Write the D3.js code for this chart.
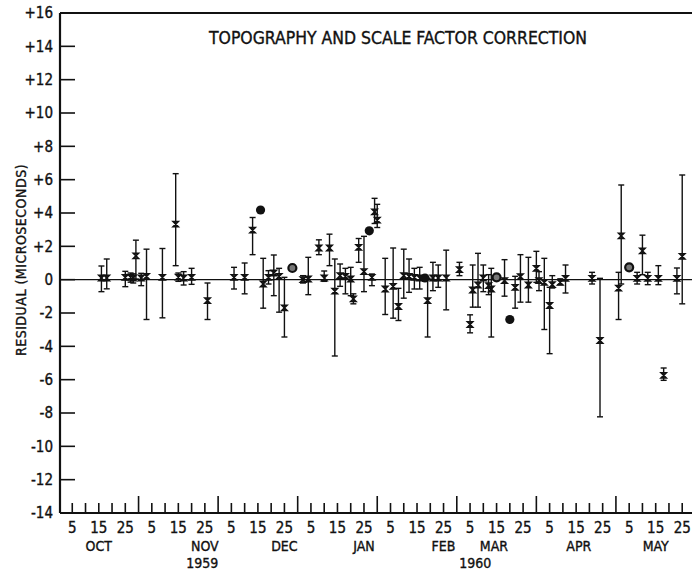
<!DOCTYPE html>
<html>
<head>
<meta charset="utf-8">
<script src="https://cdn.jsdelivr.net/npm/d3@7"></script>
<style>
  body { margin: 0; background: #fff; }
  svg text { font-family: "Liberation Sans Narrow", "DejaVu Sans Condensed", "Arial Narrow", sans-serif; fill: #111; stroke: #111; stroke-width: 0.35px; }
</style>
</head>
<body>
<svg id="chart" width="692" height="573"></svg>
<script>
// residuals with error bars (star markers)
const starDates = [
  "1959-10-16","1959-10-18","1959-10-25","1959-10-27","1959-10-28","1959-10-29","1959-11-01","1959-11-03",
  "1959-11-09","1959-11-14","1959-11-15","1959-11-17","1959-11-20","1959-11-26","1959-12-06","1959-12-10",
  "1959-12-13","1959-12-17","1959-12-19","1959-12-21","1959-12-23","1959-12-25","1960-01-02","1960-01-04",
  "1960-01-08","1960-01-10","1960-01-12","1960-01-14","1960-01-16","1960-01-18","1960-01-20","1960-01-21",
  "1960-01-23","1960-01-25","1960-01-28","1960-01-29","1960-01-30","1960-02-03","1960-02-06","1960-02-08",
  "1960-02-10","1960-02-12","1960-02-14","1960-02-16","1960-02-19","1960-02-21","1960-02-23","1960-02-26",
  "1960-03-01","1960-03-05","1960-03-06","1960-03-08","1960-03-10","1960-03-12","1960-03-13","1960-03-18",
  "1960-03-22","1960-03-24","1960-03-27","1960-03-30","1960-04-01","1960-04-03","1960-04-05","1960-04-06",
  "1960-04-09","1960-04-11","1960-04-21","1960-04-24","1960-05-01","1960-05-02","1960-05-08","1960-05-10",
  "1960-05-12","1960-05-16","1960-05-18","1960-05-23","1960-05-25"
];
const starValues = [
  0.1, 0.1, 0.14, 0.15, 0.1, 1.43, 0.1, 0.2,
  0.14, 3.33, 0.15, 0.1, 0.14, -1.26, 0.14, 0.14,
  2.97, -0.26, 0.14, 0.4, 0.2, -1.69, 0, 0.04,
  1.9, 0.1, 1.9, -0.69, 0.24, 0.2, 0.04, -1.15,
  1.94, 0.48, 0.14, 4.07, 3.57, -0.56, -0.4, -1.61,
  0.24, 0.2, 0.14, 0.1, -1.26, 0.1, 0.1, 0.1,
  0.6, -2.69, -0.62, -0.32, 0.1, -0.36, -0.56, -0.06,
  -0.46, 0.18, -0.32, 0.68, -0.06, -0.16, -1.55, -0.3,
  -0.16, 0.08, 0.08, -3.65, -0.51, 2.63, 0.08, 1.73,
  0.08, 0.08, -5.74, 0.08, 1.4
];
const starLow = [
  -0.72, -0.55, -0.42, -0.15, -0.2, 0.04, -0.36, -2.39,
  -2.29, 0.84, -0.1, -0.32, -0.28, -2.39, -0.56, -0.85,
  1.5, -1.71, -0.26, -0.96, -1.95, -3.44, -0.2, -0.9,
  1.5, -0.1, 0.84, -4.58, -0.4, -0.85, -0.96, -1.45,
  1.04, -0.72, -0.36, 3.37, 3.13, -2.09, -2.31, -2.45,
  -1.11, -0.76, -0.56, -0.56, -3.44, -0.66, -0.46, -1.81,
  0.24, -3.19, -1.65, -1.65, -0.72, -0.9, -3.44, -0.99,
  -1.71, -1.35, -1.35, -0.16, -0.66, -2.99, -4.44, -0.5,
  -0.3, -0.8, -0.26, -8.23, -2.39, -0.26, -0.26, 0.3,
  -0.3, -0.3, -6.04, -0.85, -1.45
];
const starHigh = [
  0.82, 1.24, 0.5, 0.4, 0.35, 2.37, 0.38, 1.83,
  1.87, 6.36, 0.4, 0.48, 0.68, -0.2, 0.74, 1.0,
  3.73, 1.28, 0.54, 1.48, 0.68, 0.14, 0.24, 1.34,
  2.39, 0.52, 2.73, 1.24, 0.94, 0.68, 0.74, -0.85,
  2.47, 2.6, 0.34, 4.88, 4.52, 1.28, 1.9, -0.52,
  1.83, 1.24, 0.68, 0.74, 0.08, 1.04, 0.88, 1.77,
  1.04, -2.11, 0.88, 1.58, 0.88, 0.3, 0.68, 1.2,
  0.2, 1.5, 1.34, 1.7, 0.48, 1.28, -0.46, 0.24,
  0.05, 0.88, 0.44, 0.08, 0.44, 5.68, 0.44, 2.67,
  0.44, 0.84, -5.3, 0.7, 6.28
];

// solid dots and ringed dots (no error bars)
const dotDates = ["1959-12-16", "1960-01-27", "1960-02-18", "1960-03-20"];
const dotValues = [4.18, 2.93, 0.1, -2.39];
const ringDates = ["1959-12-28", "1960-03-15", "1960-05-05"];
const ringValues = [0.7, 0.14, 0.74];

// axis labels
const yTicks = d3.range(-14, 17, 2);
const dayLabels = [5, 15, 25];
const months = ["OCT", "NOV", "DEC", "JAN", "FEB", "MAR", "APR", "MAY"];
const monthLabelDay = [15, 25, 25, 25, 25, 14, 16, 15];
const years = ["1959", "1960"];
const yearLabelPos = ["1959-11-24", "1960-03-07"];

// each month is drawn as 30 equal days, starting Oct 1959
function slot(s) {
  const [y, m, d] = s.split("-").map(Number);
  const mi = (y - 1959) * 12 + (m - 10);
  return mi * 30 + Math.min(d, 30);
}

const svg = d3.select("#chart");
const x = d3.scaleLinear().domain([0, 240]).range([59, 59 + 240 * 2.652]);
const y = d3.scaleLinear().domain([-14, 16]).range([513, 13]);
const x0 = 60, xEnd = 692;

// frame
svg.append("line").attr("x1", x0).attr("x2", xEnd).attr("y1", y(16)).attr("y2", y(16)).attr("stroke", "#111").attr("stroke-width", 2);
svg.append("line").attr("x1", x0).attr("x2", x0).attr("y1", y(16)).attr("y2", y(-14)).attr("stroke", "#111").attr("stroke-width", 2.2);
svg.append("line").attr("x1", x0).attr("x2", xEnd).attr("y1", y(-14)).attr("y2", y(-14)).attr("stroke", "#111").attr("stroke-width", 2.2);

// y ticks and labels
svg.selectAll(".ytick").data(yTicks.filter(v => v > -14 && v < 16)).join("line")
  .attr("x1", x0).attr("x2", x0 + 15).attr("y1", d => y(d)).attr("y2", d => y(d))
  .attr("stroke", "#111").attr("stroke-width", 1.6);
svg.selectAll(".ylab").data(yTicks).join("text")
  .attr("x", 53).attr("y", d => y(d)).attr("dy", "0.36em").attr("text-anchor", "end")
  .attr("font-size", 15)
  .text(d => d > 0 ? "+" + d : (d < 0 ? "-" + Math.abs(d) : "0"));

svg.append("text").attr("transform", "translate(21,260) rotate(-90)")
  .attr("text-anchor", "middle").attr("dy", "0.35em").attr("font-size", 14)
  .attr("letter-spacing", 0.5)
  .text("RESIDUAL (MICROSECONDS)");

// x ticks: every 5 days, month boundaries taller
const xTicks = d3.range(5, 236, 5);
svg.selectAll(".xtick").data(xTicks).join("line")
  .attr("x1", d => x(d)).attr("x2", d => x(d))
  .attr("y1", y(-14)).attr("y2", d => y(-14) - (d % 30 === 0 ? 17 : 10))
  .attr("stroke", "#111").attr("stroke-width", 1.6);

const dayTicks = [];
months.forEach((m, i) => dayLabels.forEach(dl => dayTicks.push(i * 30 + dl)));
svg.selectAll(".xlab").data(dayTicks).join("text")
  .attr("x", d => x(d)).attr("y", 528).attr("dy", "0.35em").attr("text-anchor", "middle")
  .attr("font-size", 15).text(d => d % 30);

svg.selectAll(".mlab").data(months).join("text")
  .attr("x", (d, i) => x(i * 30 + monthLabelDay[i])).attr("y", 546).attr("dy", "0.35em")
  .attr("text-anchor", "middle").attr("font-size", 14).text(d => d);

svg.selectAll(".yrlab").data(years).join("text")
  .attr("x", (d, i) => x(slot(yearLabelPos[i]))).attr("y", 563).attr("dy", "0.35em")
  .attr("text-anchor", "middle").attr("font-size", 14).text(d => d);

// title
svg.append("text").attr("x", 398).attr("y", 38).attr("dy", "0.35em").attr("text-anchor", "middle")
  .attr("font-size", 17).attr("textLength", 378).attr("lengthAdjust", "spacingAndGlyphs")
  .text("TOPOGRAPHY AND SCALE FACTOR CORRECTION");

// zero line
svg.append("line").attr("x1", x0).attr("x2", xEnd).attr("y1", y(0)).attr("y2", y(0))
  .attr("stroke", "#111").attr("stroke-width", 1.4);

// error bars
const stars = starDates.map((d, i) => ({ u: slot(d), v: starValues[i], lo: starLow[i], hi: starHigh[i] }));
const g = svg.append("g").attr("stroke", "#111").attr("fill", "none");
g.selectAll(".bar").data(stars).join("line")
  .attr("x1", d => x(d.u)).attr("x2", d => x(d.u)).attr("y1", d => y(d.lo)).attr("y2", d => y(d.hi))
  .attr("stroke-width", 1.4);
g.selectAll(".capHi").data(stars).join("line")
  .attr("x1", d => x(d.u) - 3).attr("x2", d => x(d.u) + 3).attr("y1", d => y(d.hi)).attr("y2", d => y(d.hi))
  .attr("stroke-width", 1.4);
g.selectAll(".capLo").data(stars).join("line")
  .attr("x1", d => x(d.u) - 3).attr("x2", d => x(d.u) + 3).attr("y1", d => y(d.lo)).attr("y2", d => y(d.lo))
  .attr("stroke-width", 1.4);
// hourglass markers
g.selectAll(".mark").data(stars).join("path")
  .attr("transform", d => `translate(${x(d.u)},${y(d.v)})`)
  .attr("d", "M-2.6,-2.6L2.6,-2.6L-2.6,2.6L2.6,2.6Z")
  .attr("stroke-width", 1.6);

// dots
svg.selectAll(".dot").data(dotDates).join("circle")
  .attr("cx", d => x(slot(d))).attr("cy", (d, i) => y(dotValues[i])).attr("r", 4.6)
  .attr("fill", "#111");
svg.selectAll(".ring").data(ringDates).join("circle")
  .attr("cx", d => x(slot(d))).attr("cy", (d, i) => y(ringValues[i])).attr("r", 4)
  .attr("fill", "#777").attr("stroke", "#111").attr("stroke-width", 2.2);
</script>
</body>
</html>
